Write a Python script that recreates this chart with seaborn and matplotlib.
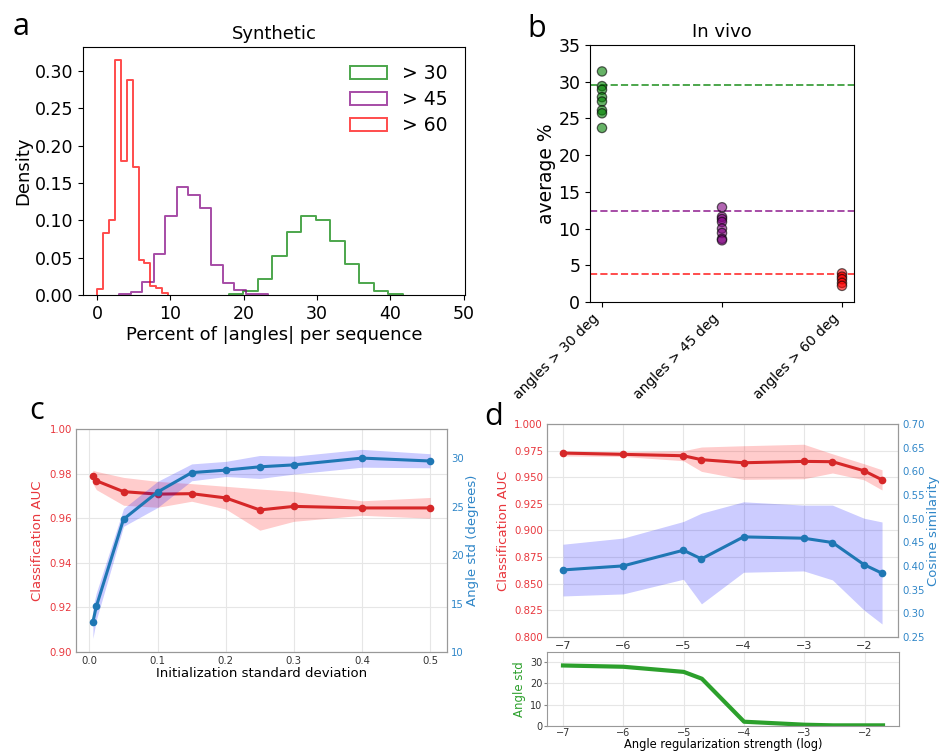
import numpy as np
import pandas as pd
import matplotlib
matplotlib.use("Agg")
import matplotlib.pyplot as plt
import matplotlib.patches as mpatches
from matplotlib.ticker import FormatStrFormatter
import seaborn as sns

# ---------------- Panel a : synthetic histograms ----------------
hist_labels = ["> 30", "> 45", "> 60"]
hist_colors = ["green", "purple", "red"]
green_start, green_width = 17.95, 1.98
green_heights = [0.0013, 0.006, 0.021, 0.052, 0.085, 0.106, 0.100, 0.072,
                 0.041, 0.016, 0.006, 0.0013]
purple_start, purple_width = 3.05, 1.565
purple_heights = [0.0013, 0.0036, 0.017, 0.055, 0.106, 0.145, 0.134, 0.116,
                  0.040, 0.0165, 0.0067, 0.002, 0.001]
red_start, red_width = 0.0, 0.81
red_heights = [0.008, 0.0836, 0.1005, 0.314, 0.1797, 0.2874, 0.171, 0.0462,
               0.0435, 0.0115, 0.0093, 0.0027]

# ---------------- Panel b : in vivo ----------------
vivo_categories = ["angles > 30 deg", "angles > 45 deg", "angles > 60 deg"]
vivo_30 = [31.4, 29.4, 28.9, 27.9, 27.3, 26.1, 25.7, 23.7]
vivo_45 = [12.9, 11.6, 11.3, 10.9, 10.0, 9.4, 8.6, 8.4]
vivo_60 = [3.9, 3.45, 3.1, 2.6, 2.2]
synthetic_means = [29.55, 12.4, 3.8]

# ---------------- Panel c : initialization std ----------------
init_std = [0.005, 0.01, 0.05, 0.1, 0.15, 0.2, 0.25, 0.3, 0.4, 0.5]
c_auc = [0.9789, 0.9768, 0.9719, 0.9708, 0.9710, 0.9691, 0.9637, 0.9653, 0.9646, 0.9646]
c_auc_lo = [0.9755, 0.9728, 0.9658, 0.9649, 0.9676, 0.9641, 0.9546, 0.9586, 0.9613, 0.9600]
c_auc_hi = [0.9815, 0.9810, 0.9783, 0.9765, 0.9755, 0.9743, 0.9731, 0.9720, 0.9678, 0.9693]
c_ang = [13.1, 14.7, 23.7, 26.5, 28.5, 28.76, 29.1, 29.3, 30.0, 29.7]
c_ang_lo = [11.4, 13.3, 22.96, 24.9, 27.66, 28.1, 27.9, 28.35, 29.06, 29.0]
c_ang_hi = [14.6, 16.1, 24.8, 27.6, 29.4, 29.66, 30.27, 30.2, 30.9, 30.45]

# ---------------- Panel d : angle regularization ----------------
reg_log = [-7, -6, -5, -4.699, -4, -3, -2.523, -2, -1.699]
d_auc = [0.9727, 0.9715, 0.9702, 0.9665, 0.9636, 0.9649, 0.9646, 0.9561, 0.9476]
d_auc_lo = [0.9700, 0.9695, 0.9655, 0.9555, 0.9480, 0.9486, 0.9540, 0.9476, 0.9380]
d_auc_hi = [0.9745, 0.9740, 0.9749, 0.9784, 0.9796, 0.9810, 0.9720, 0.9627, 0.9570]
d_cos = [0.3917, 0.4002, 0.4333, 0.415, 0.4615, 0.4587, 0.4496, 0.403, 0.3847]
d_cos_lo = [0.3367, 0.341, 0.372, 0.320, 0.3868, 0.3896, 0.3706, 0.307, 0.2775]
d_cos_hi = [0.446, 0.459, 0.494, 0.5116, 0.5356, 0.5286, 0.5286, 0.501, 0.493]
d_angstd = [28.3, 27.7, 25.3, 22.1, 2.0, 0.6, 0.3, 0.3, 0.3]

RED = "#d62728"
BLUE = "#1f77b4"
RED_T = "#e8363c"
BLUE_T = "#2f86c8"
TICK_FS = 7.3
LAB_FS = 9.5

W, H = 940, 753
fig = plt.figure(figsize=(9.4, 7.53), dpi=100)


def box(l, t, r, b):
    return [l / W, 1 - b / H, (r - l) / W, (b - t) / H]


# ================= Panel a =================
ax_a = fig.add_axes(box(83, 47, 465, 295))
series = [(green_start, green_width, green_heights),
          (purple_start, purple_width, purple_heights),
          (red_start, red_width, red_heights)]
for (start, width, heights), col, lab in zip(series, hist_colors, hist_labels):
    n = len(heights)
    edges = start + width * np.arange(n + 1)
    bins = [float(edges[0] - 1e-9)] + [float(e) for e in edges] + [float(edges[-1] + 1e-9)]
    hdf = pd.DataFrame({"pct": edges[:-1] + width / 2, "w": heights})
    sns.histplot(data=hdf, x="pct", weights="w", bins=bins, element="step",
                 fill=False, stat="count", color=col, alpha=0.7, lw=1.4, ax=ax_a)
ax_a.set_xlim(-1.9, 50.2)
ax_a.set_ylim(0, 0.332)
ax_a.set_xticks([0, 10, 20, 30, 40, 50])
ax_a.set_yticks([0, 0.05, 0.10, 0.15, 0.20, 0.25, 0.30])
ax_a.yaxis.set_major_formatter(FormatStrFormatter("%.2f"))
ax_a.tick_params(labelsize=12.5)
ax_a.set_xlabel("Percent of |angles| per sequence", fontsize=13, labelpad=2)
ax_a.set_ylabel("Density", fontsize=13, labelpad=2)
ax_a.set_title("Synthetic", fontsize=13)
handles = [mpatches.Patch(facecolor="none", edgecolor=c, alpha=0.7, lw=1.4)
           for c in hist_colors]
ax_a.legend(handles, hist_labels, loc="upper right", frameon=False, fontsize=13.5,
            labelspacing=0.37)

# ================= Panel b =================
ax_b = fig.add_axes(box(590, 45, 854, 302))
vivo_df = pd.DataFrame({
    "cat": [vivo_categories[0]] * len(vivo_30) + [vivo_categories[1]] * len(vivo_45)
           + [vivo_categories[2]] * len(vivo_60),
    "val": vivo_30 + vivo_45 + vivo_60,
})
sns.stripplot(data=vivo_df, x="cat", y="val", hue="cat", order=vivo_categories,
              palette=dict(zip(vivo_categories, ["green", "purple", "red"])),
              jitter=False, alpha=0.6, size=6.7, edgecolor="black", linewidth=0.9,
              legend=False, ax=ax_b)
for m, c in zip(synthetic_means, ["green", "purple", "red"]):
    ax_b.axhline(m, color=c, ls="--", alpha=0.7, lw=1.4)
ax_b.set_xlim(-0.1, 2.1)
ax_b.set_ylim(0, 35)
ax_b.set_yticks(range(0, 36, 5))
ax_b.tick_params(axis="y", labelsize=12.5)
ax_b.tick_params(axis="x", labelsize=10)
plt.setp(ax_b.get_xticklabels(), rotation=45, ha="right")
ax_b.set_xlabel("")
ax_b.set_ylabel("average %", fontsize=13.5, labelpad=2)
ax_b.set_title("In vivo", fontsize=13)


def style_grid_axes(ax, length=0, pad=2.8):
    for s in ax.spines.values():
        s.set_color("#999999")
    ax.grid(True, color="#e6e6e6", lw=0.8)
    ax.set_axisbelow(True)
    ax.tick_params(colors="#888888", labelcolor="#333333", length=length, pad=pad,
                   labelsize=TICK_FS)


# ================= Panel c =================
ax_c = fig.add_axes(box(76, 429, 447, 652))
style_grid_axes(ax_c)
ax_c.fill_between(init_std, c_auc_lo, c_auc_hi, color="red", alpha=0.2, lw=0)
sns.lineplot(x=init_std, y=c_auc, color=RED, lw=2.2, marker="o", markersize=5.5,
             markeredgewidth=0, errorbar=None, ax=ax_c)
ax_c.set_xlim(-0.0198, 0.5248)
ax_c.set_ylim(0.90, 1.00)
ax_c.set_yticks(np.arange(0.90, 1.001, 0.02))
ax_c.yaxis.set_major_formatter(FormatStrFormatter("%.2f"))
ax_c.set_xticks([0.0, 0.1, 0.2, 0.3, 0.4, 0.5])
ax_c.tick_params(axis="y", labelcolor=RED_T)
ax_c.set_xlabel("Initialization standard deviation", fontsize=LAB_FS, labelpad=1)
ax_c.set_ylabel("Classification AUC", fontsize=LAB_FS, color=RED_T, labelpad=4)

ax_c2 = ax_c.twinx()
for s in ax_c2.spines.values():
    s.set_color("#999999")
ax_c2.fill_between(init_std, c_ang_lo, c_ang_hi, color="blue", alpha=0.2, lw=0)
sns.lineplot(x=init_std, y=c_ang, color=BLUE, lw=2.2, marker="o", markersize=5.5,
             markeredgewidth=0, errorbar=None, ax=ax_c2)
ax_c2.set_ylim(10, 33)
ax_c2.set_yticks([10, 15, 20, 25, 30])
ax_c2.tick_params(labelsize=TICK_FS, length=0, pad=2.8, labelcolor=BLUE_T)
ax_c2.set_ylabel("Angle std (degrees)", fontsize=LAB_FS, color=BLUE_T, labelpad=1.5)

# ================= Panel d (top) =================
ax_d = fig.add_axes(box(547, 424, 898, 637))
style_grid_axes(ax_d)
ax_d.fill_between(reg_log, d_auc_lo, d_auc_hi, color="red", alpha=0.2, lw=0)
sns.lineplot(x=reg_log, y=d_auc, color=RED, lw=2.2, marker="o", markersize=5.5,
             markeredgewidth=0, errorbar=None, ax=ax_d)
ax_d.set_xlim(-7.265, -1.434)
ax_d.set_ylim(0.8, 1.0)
ax_d.set_yticks(np.arange(0.8, 1.0001, 0.025))
ax_d.yaxis.set_major_formatter(FormatStrFormatter("%.3f"))
ax_d.set_xticks([-7, -6, -5, -4, -3, -2])
ax_d.tick_params(axis="x", labelsize=8)
ax_d.tick_params(axis="y", labelcolor=RED_T)
ax_d.set_ylabel("Classification AUC", fontsize=LAB_FS, color=RED_T, labelpad=3)
ax_d.set_xlabel("")

ax_d2 = ax_d.twinx()
for s in ax_d2.spines.values():
    s.set_color("#999999")
ax_d2.fill_between(reg_log, d_cos_lo, d_cos_hi, color="blue", alpha=0.2, lw=0)
sns.lineplot(x=reg_log, y=d_cos, color=BLUE, lw=2.2, marker="o", markersize=5.5,
             markeredgewidth=0, errorbar=None, ax=ax_d2)
ax_d2.set_ylim(0.25, 0.70)
ax_d2.set_yticks(np.arange(0.25, 0.7001, 0.05))
ax_d2.yaxis.set_major_formatter(FormatStrFormatter("%.2f"))
ax_d2.tick_params(labelsize=TICK_FS, length=0, pad=2.8, labelcolor=BLUE_T)
ax_d2.set_ylabel("Cosine similarity", fontsize=LAB_FS, color=BLUE_T, labelpad=1.5)

# ================= Panel d (bottom) =================
ax_e = fig.add_axes(box(547, 652, 899, 726))
style_grid_axes(ax_e, length=2, pad=1.5)
sns.lineplot(x=reg_log, y=d_angstd, color="#2ca02c", lw=3.0, errorbar=None, ax=ax_e)
ax_e.set_xlim(-7.265, -1.434)
ax_e.set_ylim(0, 34.6)
ax_e.set_yticks([0, 10, 20, 30])
ax_e.set_xticks([-7, -6, -5, -4, -3, -2])
ax_e.tick_params(labelsize=7)
ax_e.tick_params(axis="x", length=0, pad=1.2)
ax_e.set_ylabel("Angle std", fontsize=8.5, color="#2ca02c", labelpad=3)
ax_e.set_xlabel("Angle regularization strength (log)", fontsize=8.3, labelpad=0)

# ================= Panel letters =================
for letter, x, y in [("a", 13, 35), ("b", 527, 37), ("c", 29, 419), ("d", 484, 425)]:
    fig.text(x / W, 1 - y / H, letter, fontsize=22, family="Open Sans",
             va="baseline", ha="left")

fig.savefig("out.png", dpi=100)
